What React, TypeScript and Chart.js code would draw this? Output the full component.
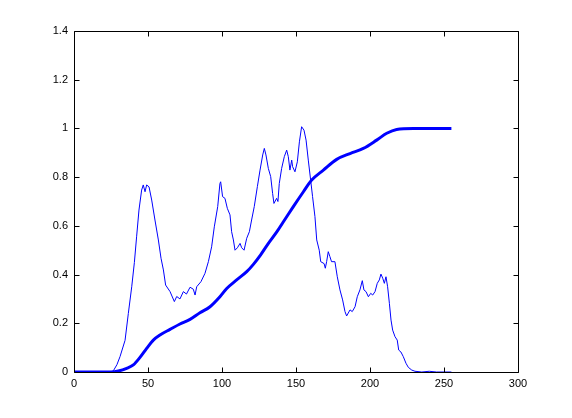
import React, { useEffect, useRef } from "react";
import { Chart, registerables } from "chart.js";

Chart.register(...registerables);

const histX = [0, 10, 20, 25, 26.6, 29, 31.1, 34.5, 36.7, 39, 40.8, 42.3, 43.9, 45.7, 46.8, 48, 49.1, 50.7, 52.5, 54.7, 57, 58.8, 60.4, 61.9, 64.9, 67.8, 69.4, 71.6, 73.9, 76, 78.4, 80.6, 81.8, 82.9, 85.8, 88.5, 90.8, 93, 94.8, 97.1, 98.6, 99.1, 100.4, 102, 103.6, 105.4, 106.5, 107.7, 108.8, 110.4, 112.2, 113.3, 114.9, 116.7, 118.5, 120, 121.8, 123.9, 125.7, 127.5, 128.6, 129.7, 131.3, 132.9, 134.2, 135.1, 136.9, 137.8, 138.7, 140.3, 142.1, 143.7, 144.8, 145.9, 147.1, 147.7, 149.3, 150.9, 152.3, 153.8, 155.4, 156.8, 158.3, 159.9, 161.2, 162.8, 164, 165.7, 166.7, 169, 169.8, 170.7, 171.8, 172.9, 174, 176.3, 177.9, 179.7, 181.5, 183.1, 184.2, 186.5, 188, 189.9, 191.4, 193.2, 194.8, 195.9, 197.3, 198.9, 200.5, 201.8, 203.4, 204.9, 206.3, 207.4, 208.6, 209.7, 210.8, 211.9, 213.1, 214.2, 215.3, 216.9, 218.4, 219.4, 220.9, 222.5, 224.3, 225.9, 228.2, 230.4, 235, 240, 245, 255];
const histY = [0, 0, 0, 0, 0.005, 0.03, 0.063, 0.13, 0.24, 0.35, 0.45, 0.555, 0.665, 0.747, 0.768, 0.74, 0.768, 0.76, 0.706, 0.624, 0.542, 0.467, 0.419, 0.357, 0.33, 0.289, 0.31, 0.3, 0.33, 0.32, 0.348, 0.34, 0.316, 0.35, 0.371, 0.405, 0.453, 0.514, 0.596, 0.679, 0.774, 0.781, 0.72, 0.713, 0.672, 0.645, 0.576, 0.542, 0.5, 0.51, 0.528, 0.51, 0.5, 0.549, 0.576, 0.624, 0.679, 0.761, 0.829, 0.891, 0.918, 0.891, 0.836, 0.802, 0.733, 0.692, 0.713, 0.7, 0.774, 0.836, 0.884, 0.911, 0.884, 0.829, 0.87, 0.843, 0.822, 0.863, 0.945, 1.007, 0.993, 0.952, 0.87, 0.788, 0.72, 0.638, 0.542, 0.5, 0.453, 0.445, 0.426, 0.453, 0.494, 0.474, 0.453, 0.453, 0.391, 0.337, 0.296, 0.248, 0.23, 0.255, 0.248, 0.268, 0.309, 0.337, 0.375, 0.337, 0.33, 0.309, 0.323, 0.316, 0.33, 0.364, 0.378, 0.402, 0.385, 0.364, 0.391, 0.35, 0.282, 0.213, 0.172, 0.145, 0.131, 0.09, 0.082, 0.063, 0.036, 0.019, 0.008, 0.003, 0, 0.003, 0, 0];

const cdfX = [0, 25, 30, 35.6, 40.1, 44.6, 49.1, 53.6, 58.1, 64.9, 71.6, 78.4, 85.1, 91.9, 98.6, 103.2, 109.9, 116.7, 121.2, 126, 131, 137, 142.6, 148.2, 155, 160.6, 168.5, 177.5, 186.5, 195.5, 204.5, 211.3, 218, 229.3, 255];
const cdfY = [0, 0, 0.004, 0.015, 0.029, 0.06, 0.097, 0.131, 0.152, 0.175, 0.197, 0.216, 0.243, 0.268, 0.309, 0.343, 0.378, 0.412, 0.442, 0.48, 0.525, 0.575, 0.627, 0.679, 0.74, 0.788, 0.829, 0.873, 0.897, 0.918, 0.952, 0.98, 0.996, 1.0, 1.0];

const xMin = 0, xMax = 300, xStep = 50;
const yMin = 0, yMax = 1.4, yStep = 0.2;

const boxPlugin = {
  id: "matlabBox",
  afterDraw(chart: any) {
    const { ctx, chartArea } = chart;
    const l = Math.round(chartArea.left) + 0.5;
    const r = Math.round(chartArea.right) + 0.5;
    const t = Math.round(chartArea.top) + 0.5;
    const b = Math.round(chartArea.bottom) + 0.5;
    ctx.save();
    ctx.strokeStyle = "#000";
    ctx.lineWidth = 1;
    ctx.beginPath();
    ctx.rect(l, t, r - l, b - t);
    const xs = chart.scales.x;
    const ys = chart.scales.y;
    const tl = 5;
    xs.ticks.forEach((tk: any) => {
      const px = Math.round(xs.getPixelForValue(tk.value)) + 0.5;
      ctx.moveTo(px, b);
      ctx.lineTo(px, b - tl);
      ctx.moveTo(px, t);
      ctx.lineTo(px, t + tl);
    });
    ys.ticks.forEach((tk: any) => {
      const py = Math.round(ys.getPixelForValue(tk.value)) + 0.5;
      ctx.moveTo(l, py);
      ctx.lineTo(l + tl, py);
      ctx.moveTo(r, py);
      ctx.lineTo(r - tl, py);
    });
    ctx.stroke();
    ctx.restore();
  },
};

export default function App() {
  const ref = useRef<HTMLCanvasElement | null>(null);
  useEffect(() => {
    if (!ref.current) return;
    const font = { family: "'Liberation Sans', Arial, Helvetica, sans-serif", size: 11 };
    const chart = new Chart(ref.current, {
      type: "line",
      data: {
        datasets: [
          {
            data: histX.map((x, i) => ({ x, y: histY[i] })),
            borderColor: "#0000ff",
            borderWidth: 1,
            pointRadius: 0,
            fill: false,
            tension: 0,
          },
          {
            data: cdfX.map((x, i) => ({ x, y: cdfY[i] })),
            borderColor: "#0000ff",
            borderWidth: 3,
            pointRadius: 0,
            fill: false,
            cubicInterpolationMode: "monotone",
          },
        ],
      },
      options: {
        animation: false,
        responsive: true,
        maintainAspectRatio: false,
        layout: { padding: { left: 0, top: 31, right: 54, bottom: 0 } },
        plugins: { legend: { display: false }, tooltip: { enabled: false } },
        scales: {
          x: {
            type: "linear",
            min: xMin,
            max: xMax,
            grid: { display: false, drawTicks: false },
            border: { display: false },
            ticks: { stepSize: xStep, color: "#000", font, padding: 5, maxRotation: 0 },
            afterFit: (s: any) => { s.height = 46; },
          },
          y: {
            type: "linear",
            min: yMin,
            max: yMax,
            grid: { display: false, drawTicks: false },
            border: { display: false },
            ticks: {
              stepSize: yStep,
              color: "#000",
              font,
              padding: 6,
              callback: (v: any) => String(Number(Number(v).toFixed(1))),
            },
            afterFit: (s: any) => { s.width = 74; },
          },
        },
      },
      plugins: [boxPlugin],
    });
    return () => chart.destroy();
  }, []);
  return (
    <div style={{ position: "absolute", left: 0, top: 0, width: 572, height: 418, background: "#fff" }}>
      <canvas ref={ref} />
    </div>
  );
}
